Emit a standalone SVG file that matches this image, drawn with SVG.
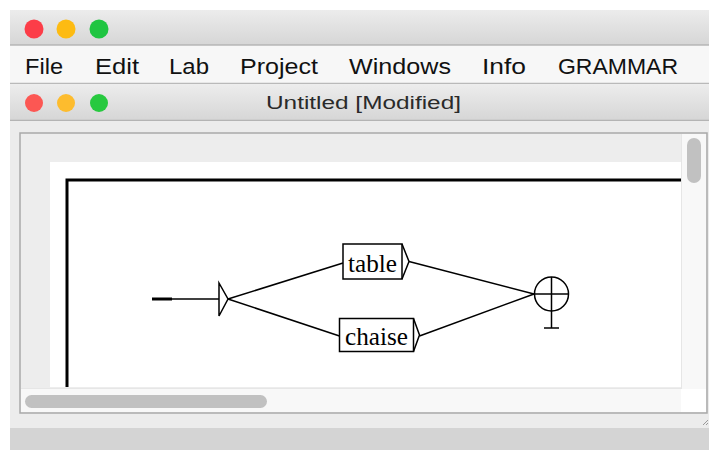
<svg xmlns="http://www.w3.org/2000/svg" width="709" height="450" viewBox="0 0 709 450">
<defs>
<linearGradient id="tb" x1="0" y1="0" x2="0" y2="1"><stop offset="0" stop-color="#ececec"/><stop offset="1" stop-color="#d6d6d6"/></linearGradient>
<style>
.menu{font-family:"Liberation Sans",Arial,sans-serif;font-size:22px;fill:#111}
.ttl{font-family:"Liberation Sans",Arial,sans-serif;font-size:18px;fill:#2a2a2a}
.lbl{font-family:"Liberation Serif","Times New Roman",serif;font-size:25px;fill:#000}
.ln{stroke:#000;stroke-width:1.5;fill:none}
.box{stroke:#000;stroke-width:1.5;fill:#fff}
</style>
</defs>
<rect x="0" y="0" width="709" height="450" fill="#ffffff"/>
<!-- window chrome -->
<rect x="10" y="10" width="699" height="35" fill="url(#tb)"/>
<line x1="10" y1="45" x2="709" y2="45" stroke="#b4b4b4" stroke-width="1.5"/>
<circle cx="34" cy="29" r="9.5" fill="#fc3d48"/>
<circle cx="66" cy="29" r="9.5" fill="#fdbb12"/>
<circle cx="99" cy="29" r="9.5" fill="#1fc541"/>
<rect x="10" y="46" width="699" height="37" fill="#f7f7f7"/>
<line x1="10" y1="83.5" x2="709" y2="83.5" stroke="#b9b9b9" stroke-width="1.5"/>
<text class="menu" x="25" y="74" textLength="38" lengthAdjust="spacingAndGlyphs">File</text>
<text class="menu" x="95" y="74" textLength="44" lengthAdjust="spacingAndGlyphs">Edit</text>
<text class="menu" x="169" y="74" textLength="40" lengthAdjust="spacingAndGlyphs">Lab</text>
<text class="menu" x="240" y="74" textLength="78" lengthAdjust="spacingAndGlyphs">Project</text>
<text class="menu" x="349" y="74" textLength="102" lengthAdjust="spacingAndGlyphs">Windows</text>
<text class="menu" x="482" y="74" textLength="44" lengthAdjust="spacingAndGlyphs">Info</text>
<text class="menu" x="558" y="74" textLength="120" lengthAdjust="spacingAndGlyphs">GRAMMAR</text>
<rect x="10" y="85" width="699" height="35" fill="url(#tb)"/>
<line x1="10" y1="120.5" x2="709" y2="120.5" stroke="#b4b4b4" stroke-width="1.5"/>
<circle cx="34" cy="103" r="9" fill="#fc5753"/>
<circle cx="66" cy="103" r="9" fill="#fdbc2e"/>
<circle cx="99" cy="103" r="9" fill="#27c93f"/>
<text class="ttl" x="363.5" y="109" text-anchor="middle" textLength="195" lengthAdjust="spacingAndGlyphs">Untitled [Modified]</text>
<rect x="10" y="122" width="699" height="306" fill="#ececec"/>
<rect x="10" y="428" width="699" height="22" fill="#d4d4d4"/>
<!-- panel -->
<rect x="20" y="133" width="687" height="280" fill="#ededed" stroke="#a9a9a9" stroke-width="1.5"/>
<rect x="50" y="162" width="631" height="225" fill="#ffffff"/>
<rect x="681" y="134" width="25" height="255" fill="#f8f8f8"/>
<line x1="681.5" y1="134" x2="681.5" y2="389" stroke="#e6e6e6"/>
<rect x="687" y="138" width="14" height="45" rx="7" fill="#c1c1c1"/>
<rect x="21" y="389" width="660" height="23" fill="#f8f8f8"/>
<line x1="21" y1="388.5" x2="681" y2="388.5" stroke="#e6e6e6"/>
<rect x="681" y="389" width="25" height="23" fill="#ffffff"/>
<rect x="25" y="395" width="242" height="13" rx="6.5" fill="#c1c1c1"/>
<path d="M703 425 L708 420 M706 425 L708 423" stroke="#9a9a9a" stroke-width="1"/>
<!-- frame -->
<path d="M67 387 V180 H681" stroke="#000" stroke-width="3" fill="none"/>
<!-- connectors -->
<g id="connectors">
<line x1="152" y1="299" x2="172" y2="299" stroke="#000" stroke-width="3"/>
<line class="ln" x1="172" y1="299" x2="219" y2="299"/>
<line class="ln" x1="228" y1="299" x2="343" y2="263"/>
<line class="ln" x1="228" y1="299" x2="339.5" y2="336"/>
<line class="ln" x1="409" y1="261.5" x2="534" y2="294"/>
<line class="ln" x1="419.5" y1="336" x2="534" y2="294"/>
</g>
<g id="initial">
<path class="ln" d="M219 283 V316 L228 299 Z"/>
</g>
<g id="n-table">
<rect class="box" x="343" y="244" width="59" height="35"/>
<path class="ln" d="M402 244 L409 261.5 L402 279"/>
<text class="lbl" x="372.5" y="272" text-anchor="middle" textLength="49" lengthAdjust="spacingAndGlyphs">table</text>
</g>
<g id="n-chaise">
<rect class="box" x="339.5" y="318.5" width="74" height="33"/>
<path class="ln" d="M413.5 318.5 L419.5 335 L413.5 351.5"/>
<text class="lbl" x="376.5" y="345" text-anchor="middle" textLength="63" lengthAdjust="spacingAndGlyphs">chaise</text>
</g>
<g id="final">
<circle class="ln" cx="551.5" cy="294" r="17"/>
<line class="ln" x1="534.5" y1="294" x2="568.5" y2="294"/>
<line class="ln" x1="551.5" y1="277" x2="551.5" y2="328"/>
<line class="ln" x1="544" y1="328" x2="559" y2="328"/>
</g>
</svg>
